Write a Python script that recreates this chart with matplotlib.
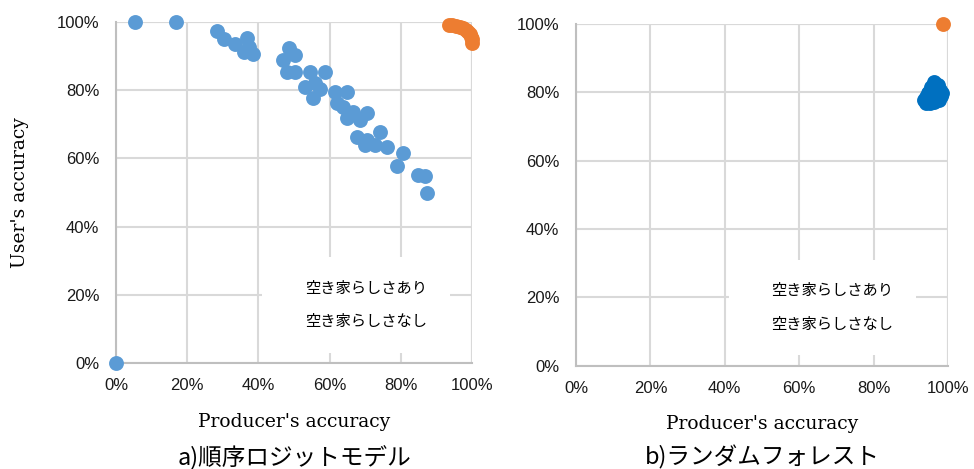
import matplotlib
matplotlib.use("Agg")
import matplotlib.pyplot as plt
from matplotlib.ticker import FuncFormatter

# a) ordered logit model: (producer's %, user's %)
xa_blue = [0, 5.3, 16.9, 28.5, 30.3, 33.4, 36.7, 36.0, 38.4, 37.4, 48.5, 50.3, 47.0,
           47.9, 50.3, 54.5, 58.7, 53.1, 55.9, 57.3, 55.4, 61.5, 64.8, 62.0, 63.8,
           66.7, 70.4, 64.8, 68.5, 74.2, 67.6, 70.4, 72.8, 76.0, 69.9, 80.7, 78.8,
           84.9, 86.8, 87.3]
ya_blue = [0, 100, 100, 97.4, 94.9, 93.5, 95.2, 91.3, 90.5, 92.8, 92.3, 90.3, 88.9,
           85.4, 85.4, 85.4, 85.4, 81.0, 82.0, 80.5, 77.6, 79.6, 79.6, 76.2, 75.2,
           73.7, 73.2, 71.8, 71.3, 67.8, 66.4, 65.4, 63.9, 63.4, 63.9, 61.5, 57.8,
           55.1, 54.8, 49.8]
xa_orng = [93.5, 94.5, 95.5, 96.5, 97.5, 98.3, 99.0, 99.5, 99.8, 100, 100]
ya_orng = [99.1, 99.0, 98.8, 98.6, 98.2, 97.8, 97.2, 96.5, 95.7, 94.9, 94.0]

# b) random forest
xb_blue = [96.3, 97.2, 95.4, 97.8, 98.4, 94.6, 96.0, 97.0, 93.6, 95.0, 96.2, 94.2,
           95.2, 97.6, 96.1, 95.0, 94.0, 98.0, 96.8, 95.6]
yb_blue = [83.0, 82.0, 81.5, 80.8, 79.8, 79.8, 79.2, 78.6, 77.8, 77.6, 77.2, 76.8,
           76.8, 77.8, 80.6, 80.2, 78.6, 78.8, 80.4, 78.0]
xb_orng = [98.7]
yb_orng = [100]

ticks = [0, 20, 40, 60, 80, 100]
labels = ["空き家らしさあり", "空き家らしさなし"]
titles = ["a)順序ロジットモデル", "b)ランダムフォレスト"]

CJK = ["Noto Sans CJK JP", "DejaVu Sans"]
GRID = "#d9d9d9"

fig = plt.figure(figsize=(9.74, 4.69), dpi=100)
ax_a = fig.add_axes([0.1191, 0.226, 0.3655, 0.727])
ax_b = fig.add_axes([0.5914, 0.2203, 0.3819, 0.7286])

panels = [
    (ax_a, xa_blue, ya_blue, xa_orng, ya_orng, "#5b9bd5"),
    (ax_b, xb_blue, yb_blue, xb_orng, yb_orng, "#0070c0"),
]

for i, (ax, xb, yb, xo, yo, blue) in enumerate(panels):
    h1 = ax.scatter(xb, yb, s=115, color=blue, linewidths=0, zorder=3, clip_on=False)
    h2 = ax.scatter(xo, yo, s=115, color="#ed7d31", linewidths=0, zorder=3, clip_on=False)

    ax.set_xlim(0, 100)
    ax.set_ylim(0, 100)
    ax.set_xticks(ticks)
    ax.set_yticks(ticks)
    pct = FuncFormatter(lambda v, _: f"{v:.0f}%")
    ax.xaxis.set_major_formatter(pct)
    ax.yaxis.set_major_formatter(pct)
    ax.tick_params(length=0, labelsize=12, labelcolor="#1a1a1a", pad=11)
    for lab in ax.get_xticklabels() + ax.get_yticklabels():
        lab.set_fontfamily("Liberation Sans")
    ax.tick_params(axis="y", pad=12)

    ax.grid(True, color=GRID, linewidth=1.5, zorder=0)
    ax.set_axisbelow(True)
    for side in ["top", "right"]:
        ax.spines[side].set_visible(False)
    for side in ["left", "bottom"]:
        ax.spines[side].set_color("#bfbfbf")
        ax.spines[side].set_linewidth(1.5)
    # top/right gridline acts as frame
    ax.axhline(100, color=GRID, linewidth=1.5, zorder=0)
    ax.axvline(100, color=GRID, linewidth=1.5, zorder=0)

    ax.set_xlabel("Producer's accuracy", fontfamily="DejaVu Serif",
                  fontsize=13.5, labelpad=14)

    leg = ax.legend([h1, h2], labels, loc="lower left",
                    bbox_to_anchor=(0.41, 0.03), prop={"family": CJK, "size": 11},
                    frameon=True, facecolor="white", edgecolor="none", framealpha=1,
                    borderpad=1.5, labelspacing=1.05, handlelength=1.0,
                    handletextpad=0.3, borderaxespad=0)
    for h in leg.legend_handles:
        h.set_visible(False)
    leg.set_zorder(2)

# panel captions below each chart
for ax, title in zip([ax_a, ax_b], titles):
    pos = ax.get_position()
    fig.text(pos.x0 + pos.width / 2, 0.024, title, ha="center", va="center",
             fontfamily=CJK, fontsize=17)

ax_a.set_ylabel("User's accuracy", fontfamily="DejaVu Serif", fontsize=13.5,
                labelpad=20)

fig.savefig("out.png", dpi=100)
